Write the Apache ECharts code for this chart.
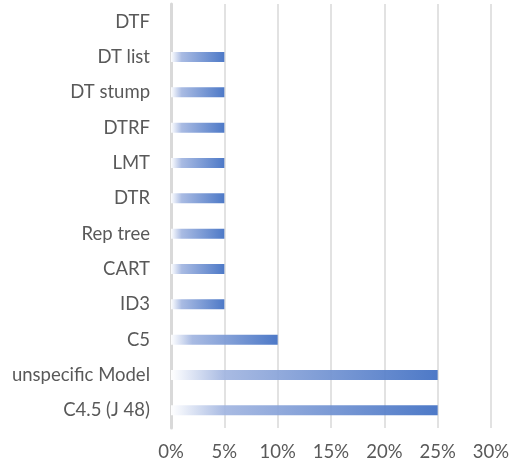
<!DOCTYPE html>
<html>
<head>
<meta charset="utf-8">
<script src="https://cdn.jsdelivr.net/npm/echarts@6/dist/echarts.min.js"></script>
<style>
  html, body { margin: 0; padding: 0; background: #fff; }
  #chart { width: 513px; height: 466px; }
</style>
</head>
<body>
<div id="chart"></div>
<script>
// Model names, listed bottom to top along the category axis
const models = ['C4.5 (J 48)', 'unspecific Model', 'C5', 'ID3', 'CART', 'Rep tree', 'DTR', 'LMT', 'DTRF', 'DT stump', 'DT list', 'DTF'];
// Share of studies per model, in percent
const shares = [25, 25, 10, 5, 5, 5, 5, 5, 5, 5, 5, 0];
// Value axis ticks
const tickValues = [0, 5, 10, 15, 20, 25, 30];

const chart = echarts.init(document.getElementById('chart'));
const labelFont = { fontFamily: 'Lato, "Open Sans", sans-serif', fontSize: 18.5, color: '#595959' };

chart.setOption({
  animation: false,
  grid: { left: 171, right: 22, top: 4, bottom: 38, containLabel: false },
  xAxis: {
    type: 'value',
    min: tickValues[0],
    max: tickValues[tickValues.length - 1],
    interval: 5,
    axisLine: { show: false },
    axisTick: { show: false },
    splitLine: { show: true, lineStyle: { color: '#d9d9d9', width: 1.5 } },
    axisLabel: Object.assign({ formatter: v => v + '%', margin: 15 }, labelFont)
  },
  yAxis: {
    type: 'category',
    data: models,
    axisLine: { show: true, lineStyle: { color: '#d9d9d9', width: 3 } },
    axisTick: { show: false },
    axisLabel: Object.assign({ margin: 21 }, labelFont)
  },
  series: [{
    type: 'bar',
    data: shares,
    barWidth: 10,
    itemStyle: {
      opacity: 0.95,
      color: new echarts.graphic.LinearGradient(0, 0, 1, 0, [
        { offset: 0, color: '#ffffff' },
        { offset: 0.2, color: '#a4b7e1' },
        { offset: 1, color: '#4472c4' }
      ])
    }
  }]
});
</script>
</body>
</html>
